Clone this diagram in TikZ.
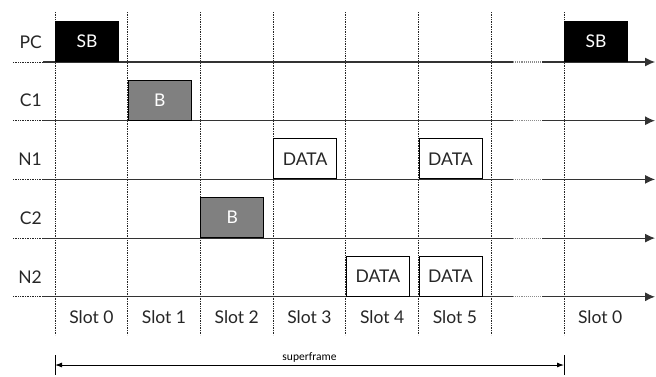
\documentclass[tikz,border=0pt]{standalone}
\usepackage{fontspec}
\setmainfont{Lato}
\newfontfamily\smallfont{Carlito}
\usetikzlibrary{arrows.meta}

\tikzset{
  slotline/.style={black!85, densely dotted, line width=0.7pt},
  timeline/.style={black!80, line width=1.1pt},
  gapline/.style={black!45, densely dotted, line width=1.1pt},
  frame/.style={draw=black, line width=1pt, minimum width=63pt, minimum height=40pt,
    inner sep=0pt, anchor=south west, font=\fontsize{17.5}{19}\selectfont},
  sbframe/.style={frame, fill=black, text=white},
  bframe/.style={frame, fill=black!50, text=white!92},
  dataframe/.style={frame, fill=white, text=black!85},
  rowlabel/.style={anchor=east, inner sep=0pt, text=black!85, font=\fontsize{17.5}{19}\selectfont},
  slotlabel/.style={inner sep=0pt, text=black!85, font=\fontsize{17.5}{19}\selectfont},
}

\begin{document}
\begin{tikzpicture}[x=1pt, y=-1pt]
  \useasboundingbox (0,0) rectangle (656,376);

  % slot borders
  \foreach \i in {0,...,7} {
    \coordinate (t\i) at (55+72.7*\i, 12);
    \coordinate (b\i) at (55+72.7*\i, 335);
    \draw [slotline] (t\i) -- (b\i);
  }

  % one time axis per station
  \foreach \name/\lab [count=\j from 0] in {pc/PC, c1/C1, n1/N1, c2/C2, n2/N2} {
    \coordinate (\name-a) at (13, 62+58.7*\j);
    \coordinate (\name-b) at (43, 62+58.7*\j);
    \coordinate (\name-c) at (513, 62+58.7*\j);
    \coordinate (\name-d) at (542, 62+58.7*\j);
    \coordinate (\name-e) at (655, 62+58.7*\j);
    \draw [slotline] (\name-a) -- (\name-b);
    \draw [timeline] (\name-b) -- (\name-c);
    \draw [gapline] (\name-c) -- (\name-d);
    \draw [timeline, -{Latex[length=10pt, width=9pt]}] (\name-d) -- (\name-e);
    \node [rowlabel] (\name-lab) at (42, 42+58.7*\j) {\lab};
  }

  % transmissions
  \node [sbframe] (sb0) at (t0 |- pc-a) {SB};
  \node [sbframe] (sb1) at (t7 |- pc-a) {SB};
  \node [bframe] (bc1) at (t1 |- c1-a) {B};
  \node [bframe] (bc2) at (t2 |- c2-a) {B};
  \node [dataframe] (dn1a) at (t3 |- n1-a) {DATA};
  \node [dataframe] (dn1b) at (t5 |- n1-a) {DATA};
  \node [dataframe] (dn2a) at (t4 |- n2-a) {DATA};
  \node [dataframe] (dn2b) at (t5 |- n2-a) {DATA};

  % slot numbers
  \foreach \i in {0,...,5}
    \node [slotlabel] (slot\i) at (91.35+72.7*\i, 317) {Slot \i};
  \node [slotlabel] (slot7) at (600.2, 317) {Slot 0};

  % superframe
  \coordinate (sf-l) at (55, 365);
  \coordinate (sf-r) at (564, 365);
  \draw [line width=1pt] (55,355) -- (55,375);
  \draw [line width=1pt] (564,355) -- (564,375);
  \draw [line width=0.9pt, {Latex[length=7pt, width=5pt]}-{Latex[length=7pt, width=5pt]}] (sf-l) -- (sf-r)
    node [midway, above=2.5pt, inner sep=0pt, font=\smallfont\fontsize{11.5}{12}\selectfont] (sf-lab) {superframe};
\end{tikzpicture}
\end{document}
